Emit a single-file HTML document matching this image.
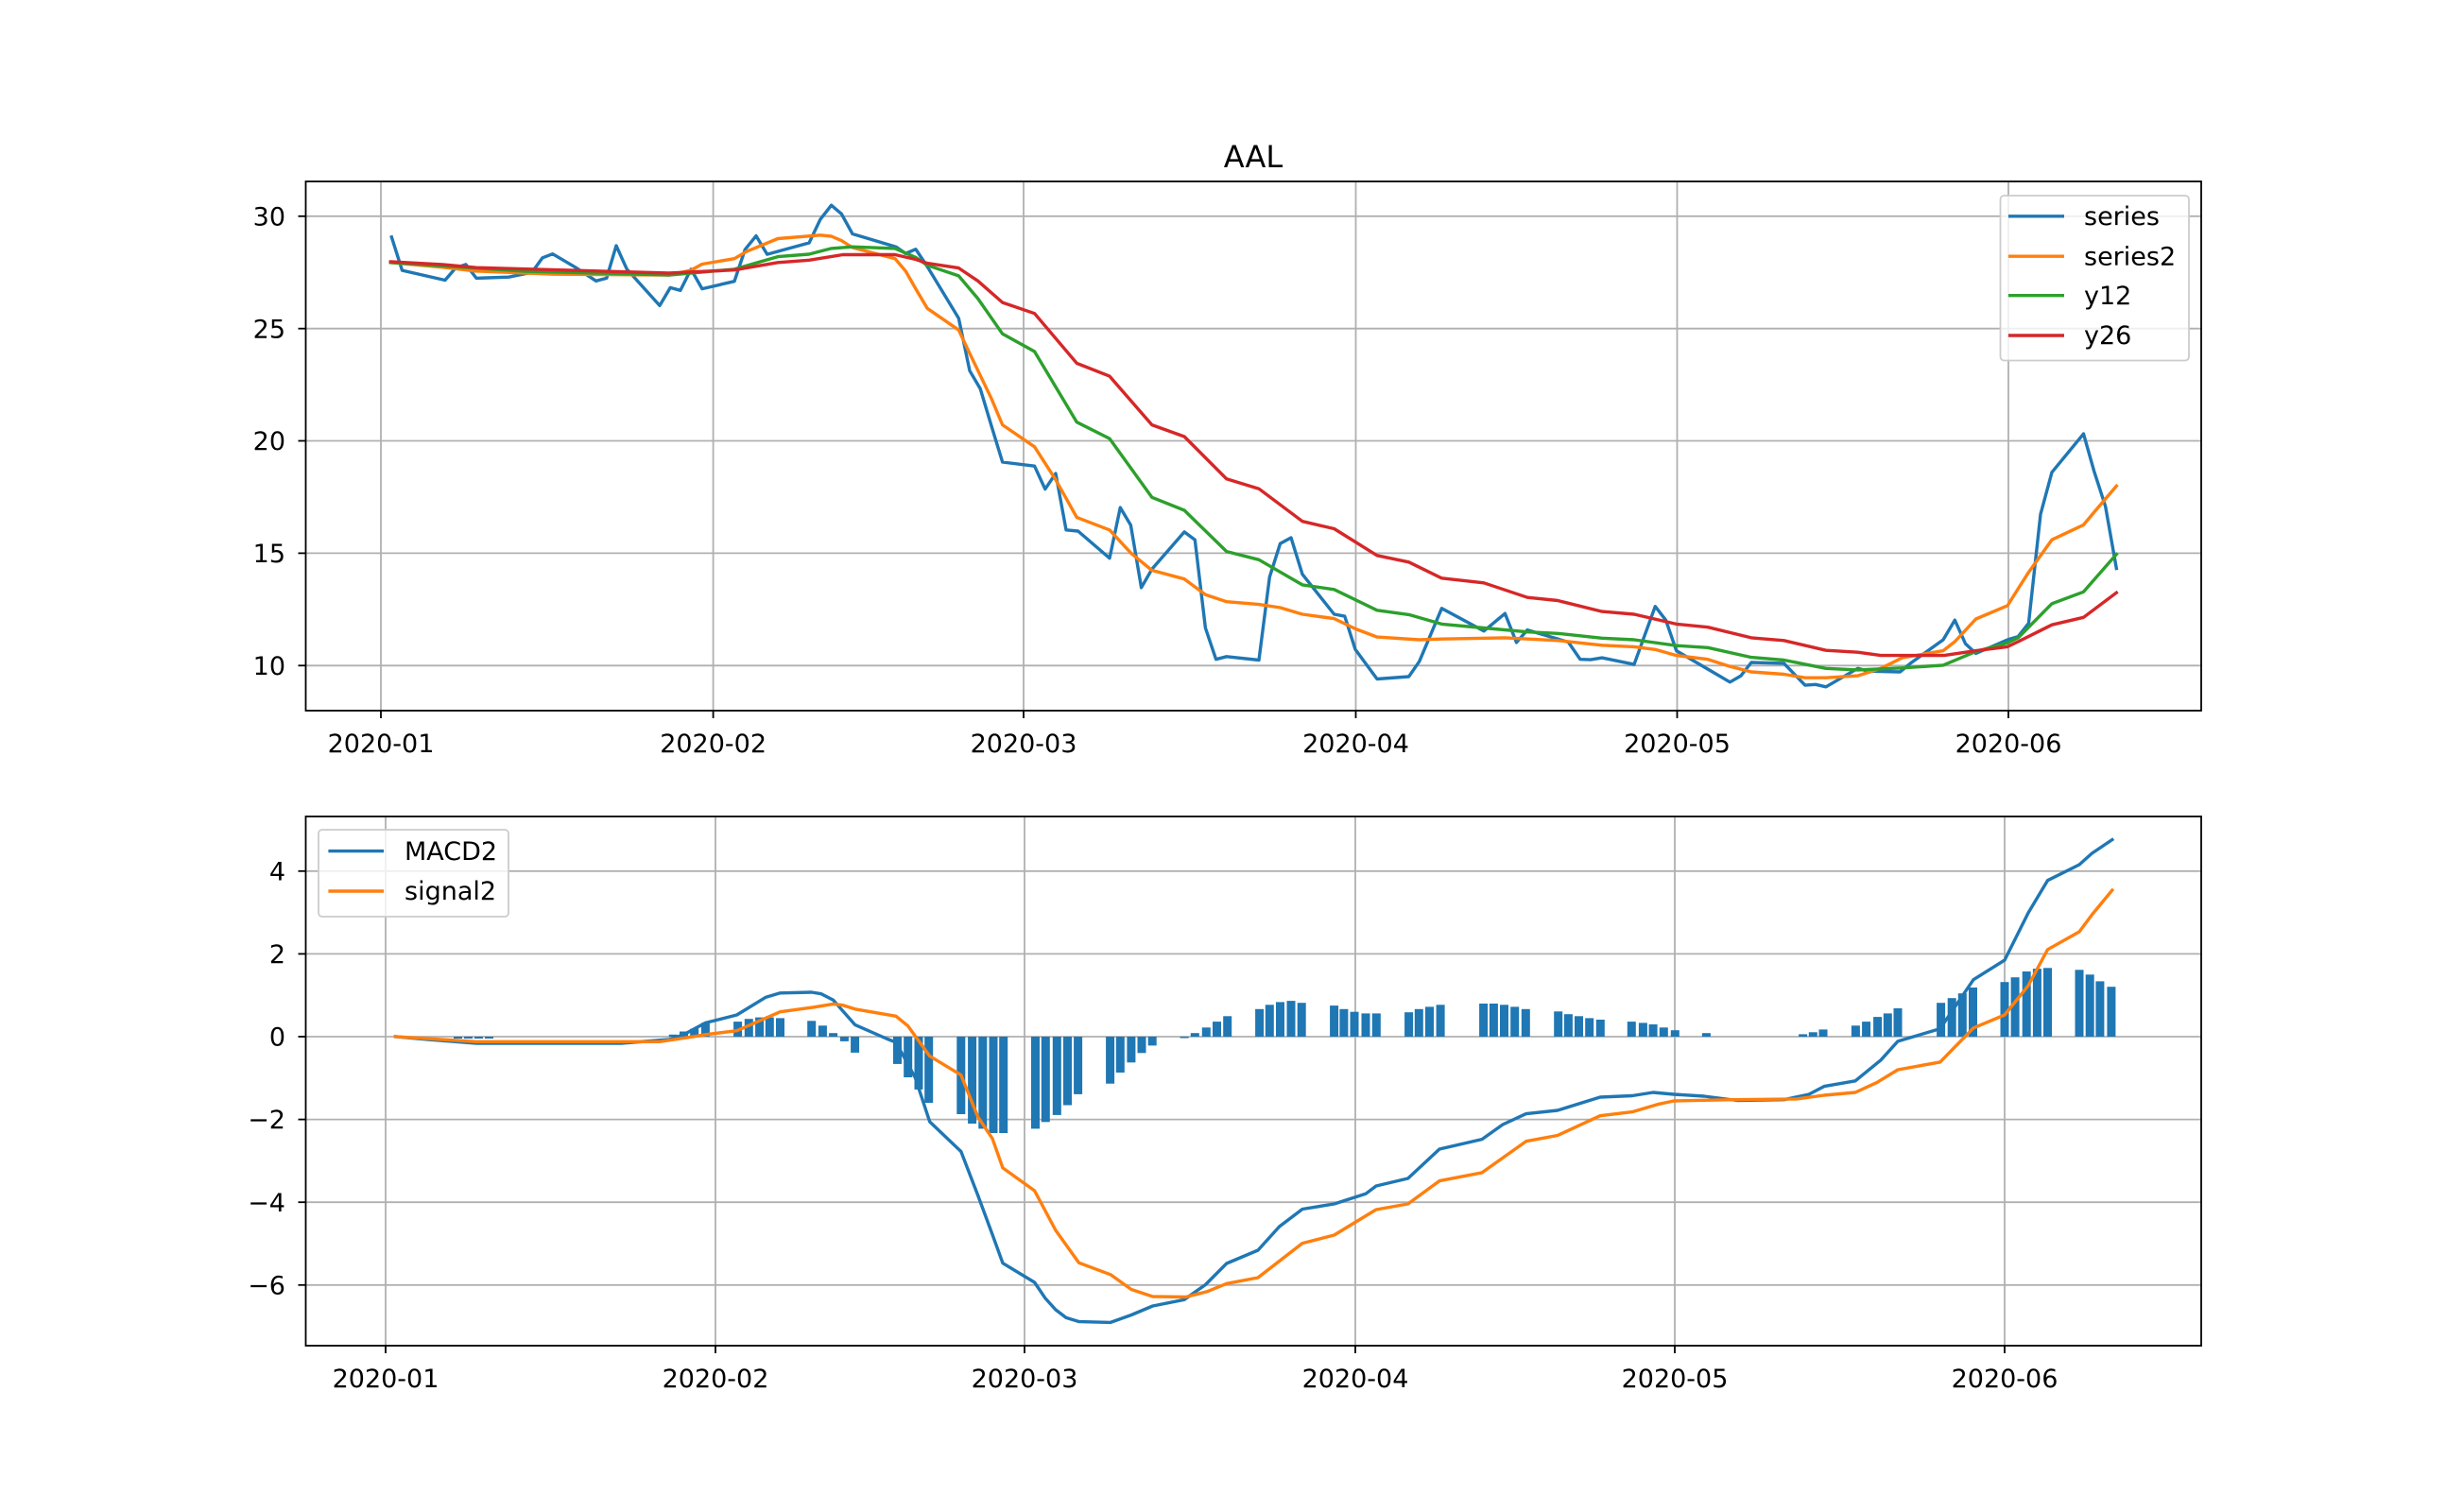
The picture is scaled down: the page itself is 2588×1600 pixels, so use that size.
<!DOCTYPE html>
<html><head><meta charset="utf-8"><style>
html,body{margin:0;padding:0;background:#fff}
svg{display:block}
text{font-family:"DejaVu Sans","Liberation Sans",sans-serif;fill:#000}
</style></head><body>
<svg width="2588" height="1600" viewBox="0 0 2588 1600" xmlns="http://www.w3.org/2000/svg">
<rect width="2588" height="1600" fill="#fff"/>
<!-- TOP AXES -->
<g stroke="#b0b0b0" stroke-width="1.8" fill="none">
<line x1="403" y1="192" x2="403" y2="752"/><line x1="754.6" y1="192" x2="754.6" y2="752"/><line x1="1083" y1="192" x2="1083" y2="752"/><line x1="1434.5" y1="192" x2="1434.5" y2="752"/><line x1="1774.5" y1="192" x2="1774.5" y2="752"/><line x1="2125" y1="192" x2="2125" y2="752"/>
<line x1="323.5" y1="228.8" x2="2329" y2="228.8"/><line x1="323.5" y1="347.7" x2="2329" y2="347.7"/><line x1="323.5" y1="466.5" x2="2329" y2="466.5"/><line x1="323.5" y1="585.4" x2="2329" y2="585.4"/><line x1="323.5" y1="704.3" x2="2329" y2="704.3"/>
</g>
<g fill="none" stroke-width="3.4" stroke-linejoin="round" stroke-linecap="square">
<polyline stroke="#1f77b4" points="414.3,250.8 425.5,286.1 470.9,296.5 482,283.6 492.9,279.9 504,294.4 538.3,293.2 562.8,288.2 574,272.8 584.7,268.7 608.7,282.8 630.6,297.3 641.8,294.4 652,260 663.3,284.9 698,323.4 709.2,304.4 719.9,307.3 731.1,284.9 742.9,305.6 777,297.7 788.3,264.1 800,249.6 811.7,269.1 856.1,257 867.9,232.2 879.6,217.2 890.3,226.3 902,247.5 948,261.2 958.2,268.3 968.9,263.7 981.1,282 1014.3,336.7 1026,392.3 1037.2,411.4 1049,450.8 1060.7,489 1094.6,493.2 1105.8,517.6 1117,501 1128,560.8 1140.6,562 1174,590.7 1185.3,537.1 1196.4,555.8 1207.6,621.8 1218.8,602.3 1253.1,562.9 1264.3,571.2 1275.4,664.5 1286.6,697.7 1297.8,694.8 1332,698.5 1343.3,610.6 1354.5,575.3 1366,569 1378,607.7 1411.6,650 1422.8,652.1 1434,687.3 1457,718.5 1490.6,716 1501.8,699.8 1525.4,643.8 1570,667.8 1592.4,649.2 1604.5,679.9 1616,666.6 1659.4,679.5 1671.9,697.7 1683,698.1 1695,696.1 1729,703.1 1751.3,641.7 1762.5,656.2 1773.7,688.6 1807,708.1 1830.4,721.8 1842,715.1 1853,701 1887.5,701.9 1909.8,725.1 1921,724.3 1932,726.8 1965.6,707.3 1976.8,710.2 2010.3,711 2021.4,701.9 2056,677 2068.3,656.2 2079.5,681.1 2090.6,691.5 2124,677 2135.3,673.6 2146.4,659.5 2159,544.2 2171,499.8 2204.5,459.1 2215.6,498.5 2227.7,535.9 2239.3,601.5"/>
<polyline stroke="#ff7f0e" points="413.3,277.8 468.4,282.8 504,286.9 585.7,290.2 708,291 731,286 742.9,279.5 777,273.7 789.8,266.2 823,252.5 867.9,248.8 879.6,250 890.3,254.6 902,262 947,273.7 958.2,286.9 968.9,305.6 981.1,326.3 1014.3,349.2 1026,374 1049,421.8 1060.7,449.6 1094.6,472.8 1117,507.7 1139.3,547.5 1174,560.8 1197,585.7 1218.8,603.5 1253.1,612.7 1275.4,629.3 1297.8,636.7 1332,639.6 1354.5,643 1378,650 1411.6,654.6 1434,665.4 1457,674.1 1501.8,677 1525.4,676.2 1592.4,674.9 1648.2,677.8 1695,682.8 1729,684.4 1751.3,687.3 1773.7,693.6 1807,697.7 1830.4,705.2 1853,711 1887.5,713.5 1909.8,717.2 1932,717.2 1965.6,715.1 1990,707.3 2012.5,696.1 2056,688.6 2068.3,679 2090.6,655 2124,640.9 2135.3,623 2146.4,605.6 2171,571.2 2204.5,555.4 2215.6,542.1 2239.3,514.3"/>
<polyline stroke="#2ca02c" points="413.3,277.8 555,287 708,291 777,284.9 823,271.6 856,269 879.6,262.9 902,261.2 947,262.9 968.9,272.4 981.1,280.7 1014.3,291.9 1034.7,316 1060.7,353.3 1094.6,372 1139.3,446.7 1174,464.1 1218.8,526.3 1253.1,540 1297.8,583.6 1332,592.3 1378,618.9 1411.6,623.8 1457,645.8 1490.6,650.4 1525.4,660.4 1570,664.5 1616,668.7 1648.2,670.3 1695,675.3 1729,677 1773.7,683.2 1807,685.3 1853,695.6 1887.5,698.5 1932,707.3 1965.6,708.9 2012.5,706.8 2056,703.9 2090.6,689.4 2124,680.3 2135.3,674.9 2171,638.8 2204.5,626.3 2239.3,586.5"/>
<polyline stroke="#d62728" points="413.3,277 468.4,279.9 504,283.2 606,286.1 708,289 777,285.7 823,277.8 856,275.3 891.8,269.5 947,269.5 968.9,274.5 981.1,278.6 1014.3,283.6 1034.7,297.3 1060.7,320.1 1094.6,331.7 1139.3,384.4 1174,398.1 1218.8,449.6 1253.1,462 1297.8,506.8 1332,517.2 1378,551.7 1411.6,559.5 1457,587.8 1490.6,594.8 1525.4,611.8 1570,616.8 1616,632.2 1648.2,635.5 1695,647.1 1729,650 1773.7,660.4 1807,663.7 1853,674.9 1887.5,677.8 1932,688.2 1965.6,690.2 1990,693.6 2057,693.6 2090.6,688.6 2124,684.4 2135.3,679 2171,661.2 2204.5,653.3 2239.3,627.2"/>
</g>
<rect x="323.5" y="192" width="2005.5" height="560" fill="none" stroke="#000" stroke-width="1.8"/>
<g stroke="#000" stroke-width="1.8">
<line x1="403" y1="752" x2="403" y2="760"/><line x1="754.6" y1="752" x2="754.6" y2="760"/><line x1="1083" y1="752" x2="1083" y2="760"/><line x1="1434.5" y1="752" x2="1434.5" y2="760"/><line x1="1774.5" y1="752" x2="1774.5" y2="760"/><line x1="2125" y1="752" x2="2125" y2="760"/>
<line x1="315.5" y1="228.8" x2="323.5" y2="228.8"/><line x1="315.5" y1="347.7" x2="323.5" y2="347.7"/><line x1="315.5" y1="466.5" x2="323.5" y2="466.5"/><line x1="315.5" y1="585.4" x2="323.5" y2="585.4"/><line x1="315.5" y1="704.3" x2="323.5" y2="704.3"/>
</g>
<g font-size="27" text-anchor="end">
<text x="302" y="238.5">30</text><text x="302" y="357.5">25</text><text x="302" y="476">20</text><text x="302" y="595">15</text><text x="302" y="714">10</text>
</g>
<g font-size="27" text-anchor="middle">
<text x="403" y="796">2020-01</text><text x="754.6" y="796">2020-02</text><text x="1083" y="796">2020-03</text><text x="1434.5" y="796">2020-04</text><text x="1774.5" y="796">2020-05</text><text x="2125" y="796">2020-06</text>
</g>
<text x="1326" y="177" font-size="32" text-anchor="middle">AAL</text>
<rect x="2116.5" y="207" width="199.5" height="174.5" rx="4" fill="#fff" fill-opacity="0.8" stroke="#cccccc" stroke-width="1.8"/>
<g stroke-width="3.4">
<line x1="2125" y1="228.8" x2="2184" y2="228.8" stroke="#1f77b4"/>
<line x1="2125" y1="271.2" x2="2184" y2="271.2" stroke="#ff7f0e"/>
<line x1="2125" y1="312.7" x2="2184" y2="312.7" stroke="#2ca02c"/>
<line x1="2125" y1="355" x2="2184" y2="355" stroke="#d62728"/>
</g>
<g font-size="27">
<text x="2205" y="238">series</text><text x="2205" y="280.5">series2</text><text x="2205" y="322">y12</text><text x="2205" y="364">y26</text>
</g>

<!-- BOTTOM AXES -->
<g stroke="#b0b0b0" stroke-width="1.8" fill="none">
<line x1="408" y1="864" x2="408" y2="1424"/><line x1="757" y1="864" x2="757" y2="1424"/><line x1="1084" y1="864" x2="1084" y2="1424"/><line x1="1434" y1="864" x2="1434" y2="1424"/><line x1="1772" y1="864" x2="1772" y2="1424"/><line x1="2121" y1="864" x2="2121" y2="1424"/>
<line x1="323.5" y1="921.8" x2="2329" y2="921.8"/><line x1="323.5" y1="1009.4" x2="2329" y2="1009.4"/><line x1="323.5" y1="1097" x2="2329" y2="1097"/><line x1="323.5" y1="1184.6" x2="2329" y2="1184.6"/><line x1="323.5" y1="1272.2" x2="2329" y2="1272.2"/><line x1="323.5" y1="1359.8" x2="2329" y2="1359.8"/>
</g>
<g fill="#1f77b4">
<rect x="480" y="1097" width="9" height="2"/><rect x="491" y="1097" width="9" height="2"/><rect x="502" y="1097" width="9" height="2"/><rect x="513" y="1097" width="9" height="2"/>
<rect x="707.7" y="1094.8" width="9" height="2.2"/><rect x="719" y="1091.5" width="9" height="5.5"/><rect x="730.2" y="1088.6" width="9" height="8.4"/><rect x="741.9" y="1082.4" width="9" height="14.6"/>
<rect x="776.1" y="1081.1" width="9" height="15.9"/><rect x="787.8" y="1078.2" width="9" height="18.8"/><rect x="799.1" y="1076.6" width="9" height="20.4"/><rect x="809.8" y="1076.6" width="9" height="20.4"/><rect x="821" y="1077.4" width="9" height="19.6"/>
<rect x="854.2" y="1080.3" width="9" height="16.7"/><rect x="865.9" y="1085.3" width="9" height="11.7"/><rect x="877.1" y="1093.2" width="9" height="3.8"/>
<rect x="888.9" y="1097" width="9" height="4.9"/><rect x="900.1" y="1097" width="9" height="16.9"/>
<rect x="945" y="1097" width="9" height="28.9"/><rect x="956.2" y="1097" width="9" height="43"/><rect x="967.5" y="1097" width="9" height="55.9"/><rect x="978.2" y="1097" width="9" height="70"/>
<rect x="1012.3" y="1097" width="9" height="82"/><rect x="1024.1" y="1097" width="9" height="92"/><rect x="1035.3" y="1097" width="9" height="97.4"/><rect x="1046.5" y="1097" width="9" height="102"/><rect x="1057.2" y="1097" width="9" height="102"/>
<rect x="1091" y="1097" width="9" height="97.4"/><rect x="1101.8" y="1097" width="9" height="90.3"/><rect x="1113.8" y="1097" width="9" height="82.9"/><rect x="1125" y="1097" width="9" height="72.5"/><rect x="1136.1" y="1097" width="9" height="60.9"/>
<rect x="1170.1" y="1097" width="9" height="49.7"/><rect x="1180.8" y="1097" width="9" height="38"/><rect x="1192.4" y="1097" width="9" height="27.3"/><rect x="1203.5" y="1097" width="9" height="17.3"/><rect x="1214.7" y="1097" width="9" height="9.4"/>
<rect x="1248.6" y="1097" width="9" height="1.5"/><rect x="1259.8" y="1093.2" width="9" height="3.8"/><rect x="1271.8" y="1087.3" width="9" height="9.7"/><rect x="1283" y="1081.1" width="9" height="15.9"/><rect x="1294.2" y="1075.3" width="9" height="21.7"/>
<rect x="1328.1" y="1067.8" width="9" height="29.2"/><rect x="1338.8" y="1063.3" width="9" height="33.7"/><rect x="1350" y="1060.4" width="9" height="36.6"/><rect x="1361.5" y="1059.1" width="9" height="37.9"/><rect x="1372.7" y="1061.2" width="9" height="35.8"/>
<rect x="1407.1" y="1064.1" width="9" height="32.9"/><rect x="1417.4" y="1067.8" width="9" height="29.2"/><rect x="1428.5" y="1070.7" width="9" height="26.3"/><rect x="1440.5" y="1072.4" width="9" height="24.6"/><rect x="1451.8" y="1072.4" width="9" height="24.6"/>
<rect x="1486.1" y="1071.2" width="9" height="25.8"/><rect x="1496.8" y="1067.8" width="9" height="29.2"/><rect x="1508" y="1065.4" width="9" height="31.6"/><rect x="1519.6" y="1063.3" width="9" height="33.7"/>
<rect x="1565.1" y="1062" width="9" height="35"/><rect x="1575.9" y="1062" width="9" height="35"/><rect x="1587" y="1063.3" width="9" height="33.7"/><rect x="1598.2" y="1065.4" width="9" height="31.6"/><rect x="1609.8" y="1067.8" width="9" height="29.2"/>
<rect x="1644.2" y="1070.3" width="9" height="26.7"/><rect x="1654.9" y="1073.2" width="9" height="23.8"/><rect x="1666" y="1075.3" width="9" height="21.7"/><rect x="1677.2" y="1077.4" width="9" height="19.6"/><rect x="1688.8" y="1079" width="9" height="18"/>
<rect x="1721.8" y="1081.1" width="9" height="15.9"/><rect x="1733.9" y="1082.4" width="9" height="14.6"/><rect x="1744.6" y="1084" width="9" height="13"/><rect x="1755.8" y="1087.3" width="9" height="9.7"/><rect x="1767.8" y="1090.2" width="9" height="6.8"/>
<rect x="1800.9" y="1093.2" width="9" height="3.8"/>
<rect x="1903.1" y="1094.4" width="9" height="2.6"/><rect x="1913.8" y="1092.3" width="9" height="4.7"/><rect x="1924.5" y="1089.4" width="9" height="7.6"/>
<rect x="1958.9" y="1085.3" width="9" height="11.7"/><rect x="1970.1" y="1081.1" width="9" height="15.9"/><rect x="1982.1" y="1076.1" width="9" height="20.9"/><rect x="1992.8" y="1072.4" width="9" height="24.6"/><rect x="2003.5" y="1067" width="9" height="30"/>
<rect x="2049.1" y="1061.2" width="9" height="35.8"/><rect x="2060.7" y="1056.2" width="9" height="40.8"/><rect x="2071.8" y="1051.2" width="9" height="45.8"/><rect x="2083" y="1045" width="9" height="52"/>
<rect x="2116.5" y="1039.2" width="9" height="57.8"/><rect x="2127.6" y="1034.2" width="9" height="62.8"/><rect x="2139.7" y="1028" width="9" height="69"/><rect x="2150.9" y="1025.1" width="9" height="71.9"/><rect x="2162" y="1024.3" width="9" height="72.7"/>
<rect x="2195.5" y="1026.3" width="9" height="70.7"/><rect x="2206.7" y="1031.3" width="9" height="65.7"/><rect x="2217.4" y="1038.4" width="9" height="58.6"/><rect x="2229.4" y="1044.2" width="9" height="52.8"/>
</g>
<g fill="none" stroke-width="3.4" stroke-linejoin="round" stroke-linecap="square">
<polyline stroke="#1f77b4" points="418.4,1096.9 453,1100 504,1104 657,1104 708,1100 723.5,1094.8 746.4,1082.4 779.6,1074 810,1055.4 825.5,1050.8 858.7,1050 869,1051.7 881.6,1058.3 904.6,1084.4 937.8,1099 948,1103 968.4,1140.5 983.7,1187 1016.8,1218.5 1034.7,1265 1050,1306.4 1061,1336.7 1094.6,1357 1105.8,1373.6 1117,1386 1128,1394.4 1141.5,1398.5 1175,1399.4 1197,1391.5 1219.6,1382 1253,1375.3 1275.4,1359.5 1297.8,1337 1331,1323 1353.6,1298 1378,1279.5 1411.6,1274 1445,1263.3 1456,1255 1489.7,1247 1523,1216 1568,1205.6 1590,1190 1614.7,1178.6 1648,1175 1693,1161 1727,1159.5 1749,1156 1771,1158 1803,1160 1838,1164.5 1887.5,1163.7 1914,1158 1930,1149.6 1963,1143.8 1990,1121.8 2008,1101.9 2052.7,1088.6 2088,1036.7 2121,1016 2146,966 2166.5,931.7 2200,915 2213.4,903 2234.8,888.6"/>
<polyline stroke="#ff7f0e" points="418.4,1096.9 504,1102.3 698,1102.3 733.7,1096.9 746.4,1094.8 779.6,1090.7 825.5,1070.7 861.2,1065.8 881.6,1062.4 891.8,1063.7 904.6,1067.8 948,1075.3 960.7,1085.7 983.7,1117.6 1016.8,1137.6 1034.7,1182 1050,1204.8 1061,1235.9 1094.6,1260 1117,1302 1141.5,1336.3 1175,1348.8 1197,1364.5 1219.6,1372 1255,1372.4 1277.7,1366.6 1297.8,1358.3 1331,1352 1378,1315.6 1411.6,1307 1456,1280 1489.7,1274 1523,1249.6 1568,1240.9 1614.7,1207.7 1648,1201.5 1693,1180.7 1727,1176.6 1753.6,1168.7 1771,1165 1834,1163.7 1901,1162.9 1930,1159 1963,1156 1986,1145.4 2008,1132 2052.7,1123.9 2088,1087.8 2121,1074 2146,1043 2166.5,1004.8 2200,986 2213.4,968 2234.8,942"/>
</g>
<rect x="323.5" y="864" width="2005.5" height="560" fill="none" stroke="#000" stroke-width="1.8"/>
<g stroke="#000" stroke-width="1.8">
<line x1="408" y1="1424" x2="408" y2="1432"/><line x1="757" y1="1424" x2="757" y2="1432"/><line x1="1084" y1="1424" x2="1084" y2="1432"/><line x1="1434" y1="1424" x2="1434" y2="1432"/><line x1="1772" y1="1424" x2="1772" y2="1432"/><line x1="2121" y1="1424" x2="2121" y2="1432"/>
<line x1="315.5" y1="921.8" x2="323.5" y2="921.8"/><line x1="315.5" y1="1009.4" x2="323.5" y2="1009.4"/><line x1="315.5" y1="1097" x2="323.5" y2="1097"/><line x1="315.5" y1="1184.6" x2="323.5" y2="1184.6"/><line x1="315.5" y1="1272.2" x2="323.5" y2="1272.2"/><line x1="315.5" y1="1359.8" x2="323.5" y2="1359.8"/>
</g>
<g font-size="27" text-anchor="end">
<text x="302" y="931.5">4</text><text x="302" y="1019">2</text><text x="302" y="1106.5">0</text><text x="302" y="1194">−2</text><text x="302" y="1282">−4</text><text x="302" y="1369.5">−6</text>
</g>
<g font-size="27" text-anchor="middle">
<text x="408" y="1468">2020-01</text><text x="757" y="1468">2020-02</text><text x="1084" y="1468">2020-03</text><text x="1434" y="1468">2020-04</text><text x="1772" y="1468">2020-05</text><text x="2121" y="1468">2020-06</text>
</g>
<rect x="337" y="878" width="201" height="92" rx="4" fill="#fff" fill-opacity="0.8" stroke="#cccccc" stroke-width="1.8"/>
<line x1="347.4" y1="900.6" x2="406" y2="900.6" stroke="#1f77b4" stroke-width="3.4"/>
<line x1="347.4" y1="943" x2="406" y2="943" stroke="#ff7f0e" stroke-width="3.4"/>
<g font-size="27">
<text x="428" y="910">MACD2</text><text x="428" y="952">signal2</text>
</g>
</svg>
</body></html>
